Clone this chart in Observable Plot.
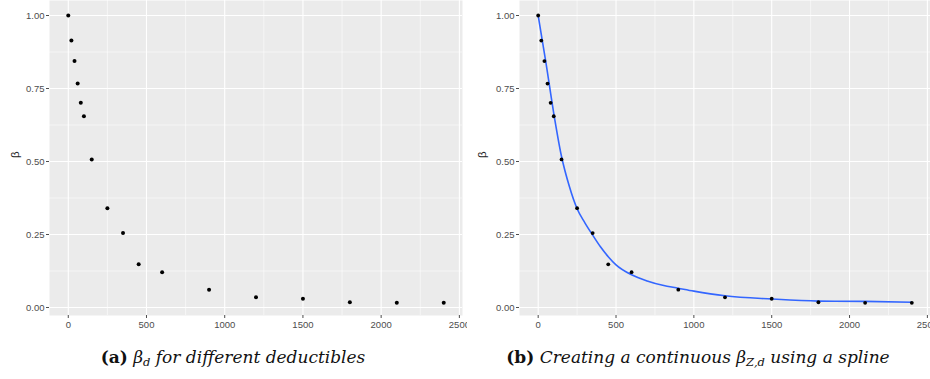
<!DOCTYPE html>
<html><head><meta charset="utf-8">
<script src="https://cdn.jsdelivr.net/npm/d3@7"></script>
<script src="https://cdn.jsdelivr.net/npm/@observablehq/plot@0.6"></script>
<style>
body{margin:0;background:#fff;}
#wrap{position:relative;width:930px;height:379px;overflow:hidden;background:#fff;}
.panel{position:absolute;top:0;height:340px;overflow:hidden;}
.cap{position:absolute;top:347px;font-family:"DejaVu Serif","Liberation Serif",serif;font-size:17px;text-align:center;color:#111;white-space:nowrap;}
.cap sub{font-size:11.5px;vertical-align:-3px;line-height:0;}
</style></head><body>
<div id="wrap">
  <div id="pa" class="panel" style="left:0;width:467px"></div>
  <div id="pb" class="panel" style="left:467px;width:463px"></div>
  <div class="cap" style="left:0;width:466px"><b>(a)</b> <i>β<sub>d</sub> for different deductibles</i></div>
  <div class="cap" style="left:466px;width:464px"><b>(b)</b> <i>Creating a continuous β<sub>Z,d</sub> using a spline</i></div>
</div>
<script>
// observed deductibles and beta values
const deductibles = [0, 20, 40, 60, 80, 100, 150, 250, 350, 450, 600, 900, 1200, 1500, 1800, 2100, 2400];
const betas = [1.0, 0.914, 0.844, 0.767, 0.701, 0.655, 0.507, 0.340, 0.255, 0.148, 0.121, 0.061, 0.035, 0.030, 0.018, 0.016, 0.016];
// spline curve samples
const splineX = [0, 50, 100, 150, 200, 250, 300, 350, 400, 450, 500, 600, 700, 800, 900, 1000, 1200, 1500, 1800, 2100, 2400];
const splineY = [1.0, 0.838, 0.665, 0.517, 0.415, 0.338, 0.290, 0.248, 0.208, 0.174, 0.146, 0.112, 0.091, 0.076, 0.066, 0.056, 0.040, 0.029, 0.022, 0.021, 0.018];
// axis ticks
const xMajor = [0, 500, 1000, 1500, 2000, 2500];
const xMinor = [250, 750, 1250, 1750, 2250];
const yMajor = [0, 0.25, 0.5, 0.75, 1.0];
const yMinor = [0.125, 0.375, 0.625, 0.875];

const points = deductibles.map((d, i) => ({d, b: betas[i]}));
const spline = splineX.map((d, i) => ({d, b: splineY[i]}));

function makePlot(width, marginLeft, marginRight, withSpline) {
  const marks = [
    Plot.frame({fill: "#EBEBEB", stroke: null}),
    Plot.ruleX(xMinor, {stroke: "white", strokeWidth: 0.55}),
    Plot.ruleY(yMinor, {stroke: "white", strokeWidth: 0.55}),
    Plot.ruleX(xMajor, {stroke: "white", strokeWidth: 1.1}),
    Plot.ruleY(yMajor, {stroke: "white", strokeWidth: 1.1}),
    Plot.axisX({ticks: xMajor, tickSize: 3, tickPadding: 3, tickFormat: d => String(d), label: null, color: "#4D4D4D"}),
    Plot.axisY({ticks: yMajor, tickSize: 3, tickPadding: 2, tickFormat: d3.format(".2f"), label: null, color: "#4D4D4D"}),
    Plot.text(["β"], {frameAnchor: "left", dx: -(marginLeft - 15), rotate: -90, fontSize: 11.5, fill: "#222"})
  ];
  if (withSpline) {
    marks.push(Plot.line(spline, {x: "d", y: "b", stroke: "#3366FF", strokeWidth: 1.6, curve: "monotone-x"}));
  }
  marks.push(Plot.dot(points, {x: "d", y: "b", r: withSpline ? 1.9 : 2, fill: "black", stroke: null}));
  return Plot.plot({
    width, height: 340,
    marginLeft, marginRight, marginTop: 0, marginBottom: 25,
    style: {fontFamily: "'Liberation Sans', Arial, sans-serif", fontSize: "9.5px", background: "transparent", overflow: "hidden"},
    x: {domain: [-120, 2520]},
    y: {domain: [-0.0274, 1.0514]},
    marks
  });
}

document.getElementById("pa").append(makePlot(467, 49, 5, false));
document.getElementById("pb").append(makePlot(463, 52, 0, true));
</script>
</body></html>
